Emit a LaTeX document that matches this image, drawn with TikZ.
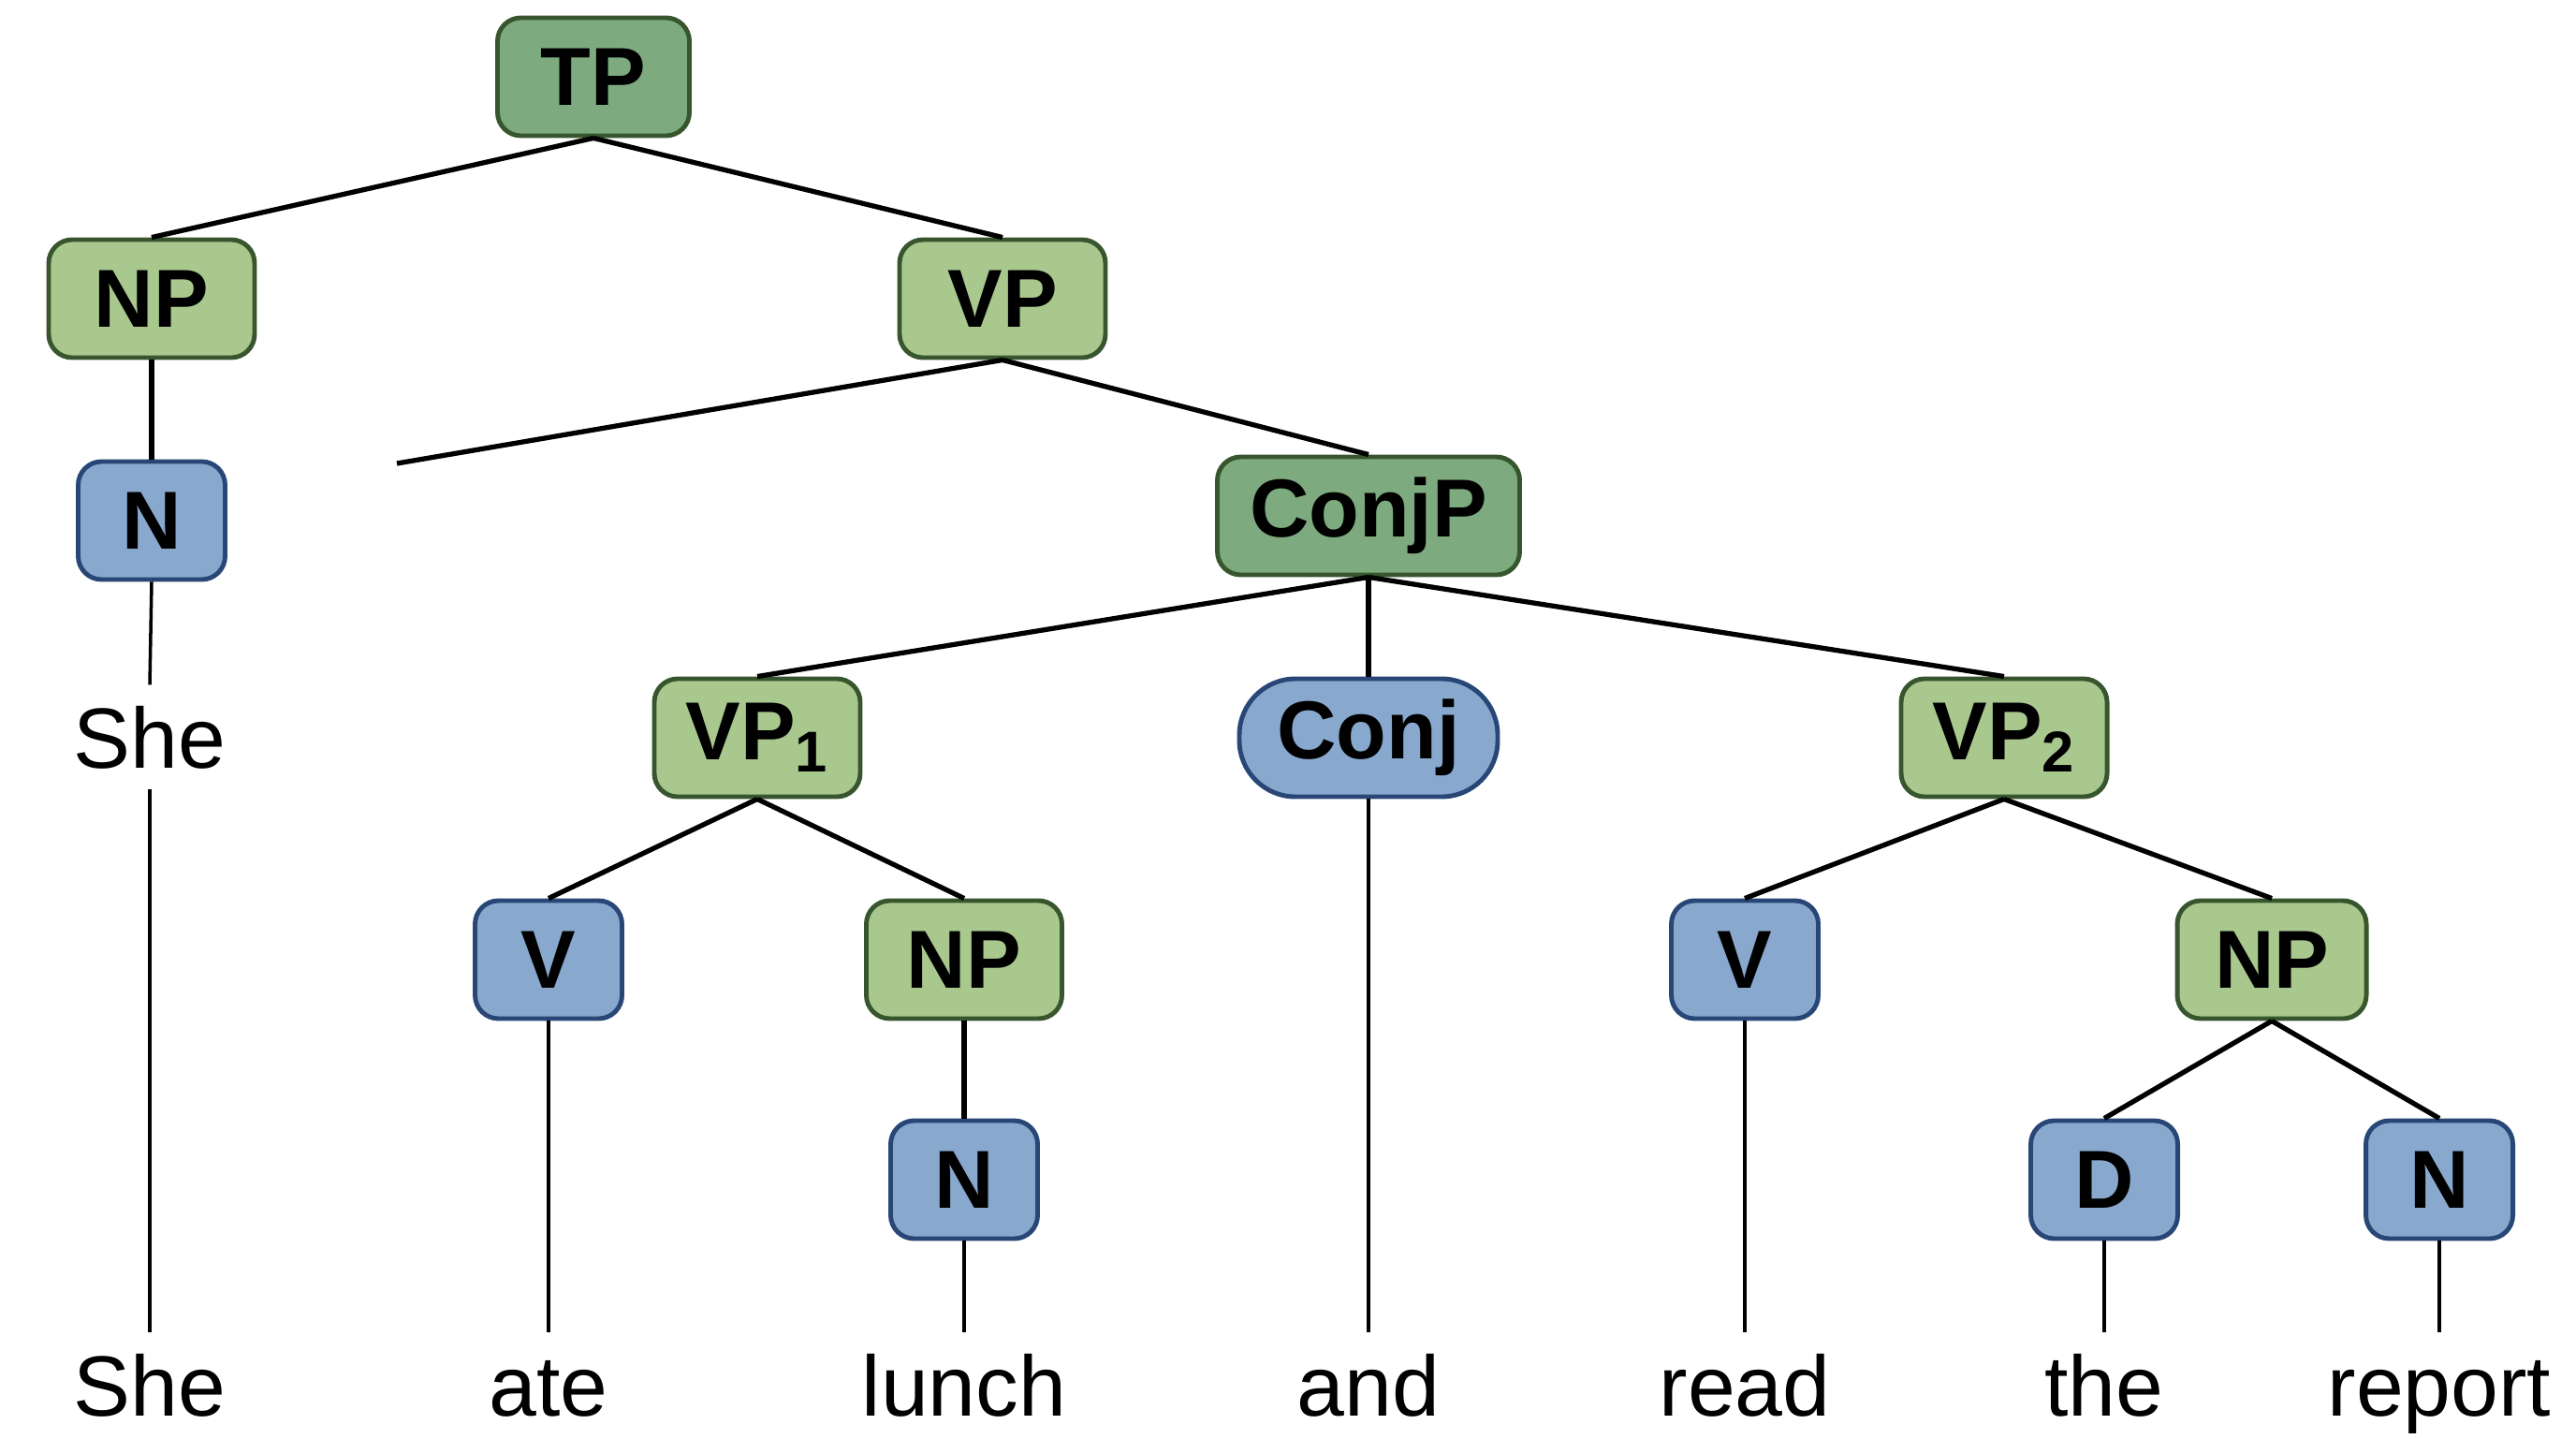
\documentclass[tikz,border=0pt]{standalone}
\usepackage{fontspec}
\setmainfont{Liberation Sans}
\definecolor{topfill}{RGB}{125,170,126}
\definecolor{phrfill}{RGB}{168,200,142}
\definecolor{headfill}{RGB}{136,168,206}
\definecolor{grnline}{RGB}{56,86,46}
\definecolor{bluline}{RGB}{40,70,118}
\tikzset{
  lab/.style={rounded corners=0.25cm,line width=1.4pt,inner sep=0pt,minimum height=1.26cm,
    font=\fontsize{25}{30}\selectfont\bfseries},
  pnode/.style={lab,draw=grnline,fill=phrfill,minimum width=2.2cm},   % phrase
  tnode/.style={lab,draw=grnline,fill=topfill},                       % TP, ConjP
  hnode/.style={lab,draw=bluline,fill=headfill,minimum width=1.57cm}, % head
  cnode/.style={hnode,rounded corners=0.6cm},                         % Conj
  word/.style={font=\fontsize{26}{30}\selectfont,text height=0.66cm,text depth=0pt,
    inner xsep=0pt,inner ysep=0.22cm,anchor=base},
  br/.style={line width=1.5pt},
  lf/.style={line width=1pt},
}

\begin{document}
\begin{tikzpicture}
  \useasboundingbox (0,0) rectangle (27.52,-15.36);
  % phrase level
  \node[tnode,minimum width=2.05cm] (TP) at (6.34,-0.82) {TP};
  \node[pnode] (NPa) at (1.62,-3.19) {NP};
  \node[pnode] (VP) at (10.71,-3.19) {VP};
  \node[hnode] (Na) at (1.62,-5.56) {N};
  \node[tnode,minimum width=3.23cm] (ConjP) at (14.62,-5.51) {ConjP};
  \node[pnode] (VPa) at (8.09,-7.88) {VP\textsubscript{1}};
  \node[cnode,minimum width=2.76cm] (Conj) at (14.62,-7.88) {Conj};
  \node[pnode] (VPb) at (21.41,-7.88) {VP\textsubscript{2}};
  \node[hnode] (Va) at (5.86,-10.25) {V};
  \node[pnode,minimum width=2.09cm] (NPb) at (10.30,-10.25) {NP};
  \node[hnode] (Vb) at (18.64,-10.25) {V};
  \node[pnode,minimum width=2.02cm] (NPc) at (24.27,-10.25) {NP};
  \node[hnode] (Nb) at (10.30,-12.60) {N};
  \node[hnode] (D) at (22.48,-12.60) {D};
  \node[hnode] (Nc) at (26.06,-12.60) {N};
  \coordinate (loose) at (4.24,-4.95);
  % words
  \node[word] (she) at (1.60,-8.20) {She};
  \node[word] (w1) at (1.60,-15.12) {She};
  \node[word] (w2) at (5.86,-15.12) {ate};
  \node[word] (w3) at (10.30,-15.12) {lunch};
  \node[word] (w4) at (14.62,-15.12) {and};
  \node[word] (w5) at (18.64,-15.12) {read};
  \node[word] (w6) at (22.48,-15.12) {the};
  \node[word] (w7) at (26.06,-15.12) {report};
  % branches
  \foreach \p/\c in {TP/NPa,TP/VP,NPa/Na,VP/ConjP,ConjP/VPa,ConjP/Conj,ConjP/VPb,
                     VPa/Va,VPa/NPb,NPb/Nb,VPb/Vb,VPb/NPc,NPc/D,NPc/Nc}
    \draw[br] (\p.south) -- (\c.north);
  \draw[br] (VP.south) -- (loose);
  % leaves
  \foreach \p/\c in {Na/she,she/w1,Va/w2,Nb/w3,Conj/w4,Vb/w5,D/w6,Nc/w7}
    \draw[lf] (\p.south) -- (\c.north);
\end{tikzpicture}
\end{document}
